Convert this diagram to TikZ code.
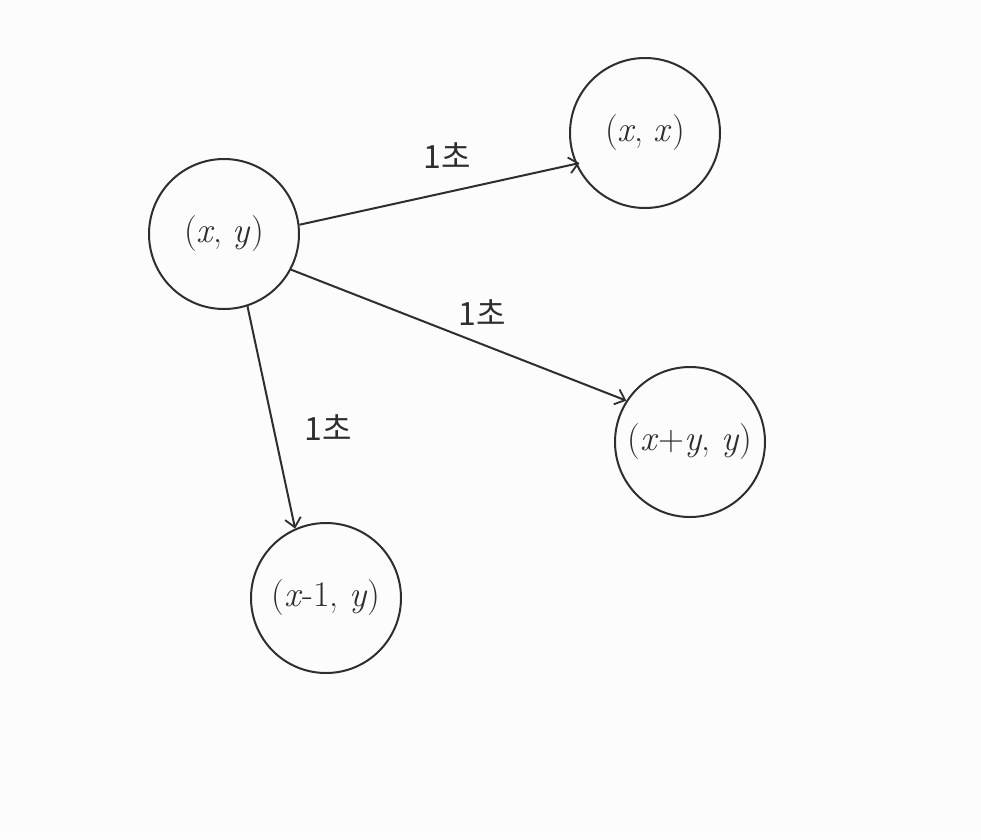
\documentclass[tikz,border=0pt]{standalone}
\usepackage{fontspec}
\newfontfamily\kr{Noto Sans CJK KR}
\usetikzlibrary{arrows.meta}
\definecolor{ink}{HTML}{2E2E2E}
\definecolor{paper}{HTML}{FCFCFC}
\newcommand{\vx}{\textit{x}}
\newcommand{\vy}{\textit{y}}
\tikzset{
  state/.style={circle, draw=ink, line width=2pt, minimum size=150pt, inner sep=0pt, text=ink, font=\fontsize{36}{40}\selectfont},
  edge/.style={draw=ink, line width=2pt, -{Straight Barb[length=9pt,width=16pt,line width=1.8pt]}},
  lbl/.style={text=ink, font=\kr\fontsize{32}{36}\selectfont}
}
\begin{document}
\begin{tikzpicture}[x=1pt,y=-1pt]
\fill[paper] (0,0) rectangle (981,839);
\useasboundingbox (0,0) rectangle (981,839);
\node[state] (A) at (224,234) {(\vx, \vy)};
\node[state] (B) at (645,133) {(\vx, \vx)};
\node[state] (C) at (690,442) {(\vx+\vy, \vy)};
\node[state] (D) at (326,598) {(\vx-1, \vy)};
\draw[edge, shorten >=-4pt] (A.7) -- (B.204);
\draw[edge] (A.-28) -- (C.147);
\draw[edge] (A.-72) -- (D.114);
\node[lbl] (L1) at (447,156) {1초};
\node[lbl] (L2) at (482,313) {1초};
\node[lbl] (L3) at (328,428) {1초};
\end{tikzpicture}
\end{document}
